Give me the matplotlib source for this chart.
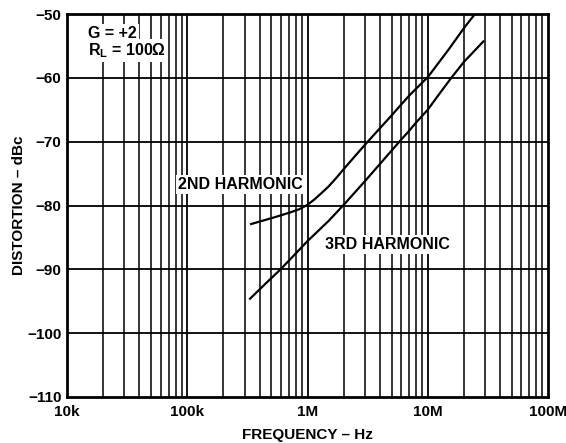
import matplotlib
matplotlib.use("Agg")
import matplotlib.pyplot as plt
from matplotlib.ticker import FixedLocator, NullFormatter, NullLocator

plt.rcParams['font.family'] = ['Liberation Sans', 'DejaVu Sans']
plt.rcParams['font.weight'] = 'bold'
plt.rcParams['mathtext.fontset'] = 'custom'
plt.rcParams['mathtext.rm'] = 'Liberation Sans:bold'
plt.rcParams['mathtext.bf'] = 'Liberation Sans:bold'

# Data
freq_2nd = [0.34e6, 0.52e6, 0.714e6, 0.85e6, 1.0e6, 1.15e6, 1.3e6, 1.5e6, 1.75e6, 2e6, 2.5e6,
            3e6, 4e6, 5e6, 6e6, 7e6, 8e6, 10e6, 15e6, 20e6, 24.7e6]
dist_2nd = [-82.9, -81.9, -81.1, -80.6, -79.9, -79.0, -78.1, -77.0, -75.6, -74.3, -72.2,
            -70.5, -67.9, -65.9, -64.2, -62.8, -61.7, -59.9, -55.5, -52.2, -50.0]

freq_3rd = [0.333e6, 0.45e6, 0.59e6, 0.8e6, 0.985e6, 1.5e6, 2e6, 3e6, 4e6, 5e6, 6e6, 7e6,
            8e6, 10e6, 12.5e6, 15.7e6, 20e6, 29e6]
dist_3rd = [-94.6, -92.2, -90.1, -87.5, -85.7, -82.4, -79.9, -76.2, -73.5, -71.4, -69.7, -68.3,
            -67.0, -65.0, -62.5, -60.0, -57.5, -54.3]

x_ticks = [1e4, 1e5, 1e6, 1e7, 1e8]
x_labels = ['10k', '100k', '1M', '10M', '100M']
y_ticks = [-110, -100, -90, -80, -70, -60, -50]
y_labels = ['\u2212110', '\u2212100', '\u221290', '\u221280', '\u221270', '\u221260', '\u221250']

fig = plt.figure(figsize=(5.66, 4.43), dpi=100)
ax = fig.add_axes([67/566, 1-397/443, (548-67)/566, (397-14)/443])
ax.set_xscale('log')
ax.set_xlim(1e4, 1e8)
ax.set_ylim(-110, -50)

# grid: decades, minor 2..9 and horizontal every 10 dB
minor = [m * 10**e for e in range(4, 8) for m in range(2, 10)]
for v in minor:
    ax.axvline(v, color='black', lw=1.1, zorder=1)
for v in x_ticks[1:-1]:
    ax.axvline(v, color='black', lw=1.3, zorder=1)
for v in y_ticks[1:-1]:
    ax.axhline(v, color='black', lw=1.3, zorder=1)

ax.plot(freq_2nd, dist_2nd, color='black', lw=1.6, zorder=3,
        solid_joinstyle='round')
ax.plot(freq_3rd, dist_3rd, color='black', lw=1.6, zorder=3,
        solid_joinstyle='round')

ax.xaxis.set_major_locator(FixedLocator(x_ticks))
ax.xaxis.set_minor_locator(NullLocator())
ax.xaxis.set_minor_formatter(NullFormatter())
ax.set_xticklabels(x_labels)
ax.set_yticks(y_ticks)
ax.set_yticklabels(y_labels)
ax.tick_params(axis='both', length=0, labelsize=11)
ax.tick_params(axis='x', pad=6)
ax.tick_params(axis='y', pad=4)
for lab in ax.get_xticklabels() + ax.get_yticklabels():
    lab.set_fontweight('bold')

for s in ax.spines.values():
    s.set_linewidth(2.0)
    s.set_zorder(4)

ax.set_xlabel('FREQUENCY \u2013 Hz', fontsize=11, fontweight='bold', labelpad=6)
ax.set_ylabel('DISTORTION \u2013 dBc', fontsize=11, fontweight='bold', labelpad=1)

def label(x, y, s, ha='left', size=11.5):
    ax.text(x, y, s, fontsize=size, fontweight='bold', ha=ha, va='center',
            bbox=dict(facecolor='white', edgecolor='none', pad=1.5), zorder=5)

label(1.5e4, -53.0, 'G = +2')
label(1.5e4, -55.7, 'R$_{\\mathbf{L}}$ = 100\u03a9')

label(8.4e4, -76.7, '2ND HARMONIC')
label(1.4e6, -86.1, '3RD HARMONIC')

fig.savefig('out.png', dpi=100)
